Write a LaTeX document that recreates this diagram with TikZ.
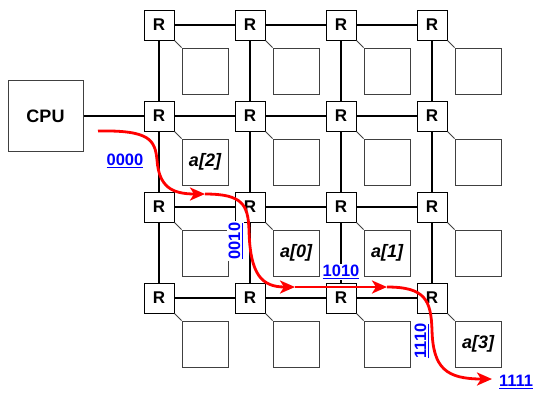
\documentclass[tikz,border=0pt]{standalone}
\usepackage{fontspec}
\setmainfont{Liberation Sans}
\usetikzlibrary{arrows.meta}
\begin{document}
\begin{tikzpicture}[x=1pt,y=-1pt,
 router/.style={draw=black,line width=1pt,fill=white,minimum size=30pt,inner sep=0pt,font=\fontsize{17}{20}\selectfont\bfseries},
 pe/.style={draw=black!75,line width=1pt,fill=white,minimum size=46pt,inner sep=0pt},
 pelabel/.style={inner sep=0pt,font=\fontsize{18}{20}\selectfont\bfseries\itshape},
 cpu/.style={draw=black!75,line width=1pt,minimum width=75pt,minimum height=71pt,inner sep=0pt,font=\fontsize{18}{20}\selectfont\bfseries},
 link/.style={line width=1.3pt},
 diag/.style={line width=1pt,black!75},
 addr/.style={text=blue,fill=white,inner sep=1.5pt,font=\fontsize{16.5}{18}\selectfont\bfseries},
 route/.style={draw=red,line width=2.8pt,-{Stealth[length=15pt,width=13pt,inset=4pt]}}
]
\useasboundingbox (0,0) rectangle (534,392);
\foreach \i in {0,...,3}{
  \foreach \j in {0,...,3}{
    \node[router] (r\i\j) at ({159+91*\i},{25+91*\j}) {R};
    \node[pe] (p\i\j) at ({205+91*\i},{71+91*\j}) {};
    \draw[diag] (r\i\j.south east) -- (p\i\j.north west);
  }
}
\foreach \i in {0,...,2}{
  \pgfmathtruncatemacro{\k}{\i+1}
  \foreach \j in {0,...,3}{
    \draw[link] (r\i\j) -- (r\k\j);
    \draw[link] (r\j\i) -- (r\j\k);
  }
}
\node[cpu] (cpu) at (45.5,116) {CPU};
\draw[link] (cpu) -- (r01);
\node[pelabel] (a2) at (p01) {a[2]};
\node[pelabel] (a0) at (p12) {a[0]};
\node[pelabel] (a1) at (p22) {a[1]};
\node[pelabel] (a3) at (p33) {a[3]};
\node[addr] (l0000) at (125,161) {\underline{0000}};
\node[addr,rotate=90] (l0010) at (235.5,241) {\underline{0010}};
\node[addr] (l1010) at (341,272) {\underline{1010}};
\node[addr,rotate=90] (l1110) at (421.5,341) {\underline{1110}};
\node[addr] (l1111) at (516,382) {\underline{1111}};
\coordinate (s0) at (98,131);
\coordinate (s1) at (205,194);
\coordinate (s2) at (295,287);
\coordinate (s3) at (387,287);
\coordinate (s4) at (492,379);
\draw[route] (s0) .. controls (150,130) and (155,140) .. (157,160) .. controls (159,187) and (172,194) .. (s1);
\draw[route] (s1) .. controls (243,194) and (248,205) .. (249,230) .. controls (250,275) and (262,287) .. (s2);
\draw[route] (s2) -- (s3);
\draw[route] (s3) .. controls (425,287) and (431,300) .. (432,330) .. controls (433,368) and (446,379) .. (s4);
\end{tikzpicture}
\end{document}
